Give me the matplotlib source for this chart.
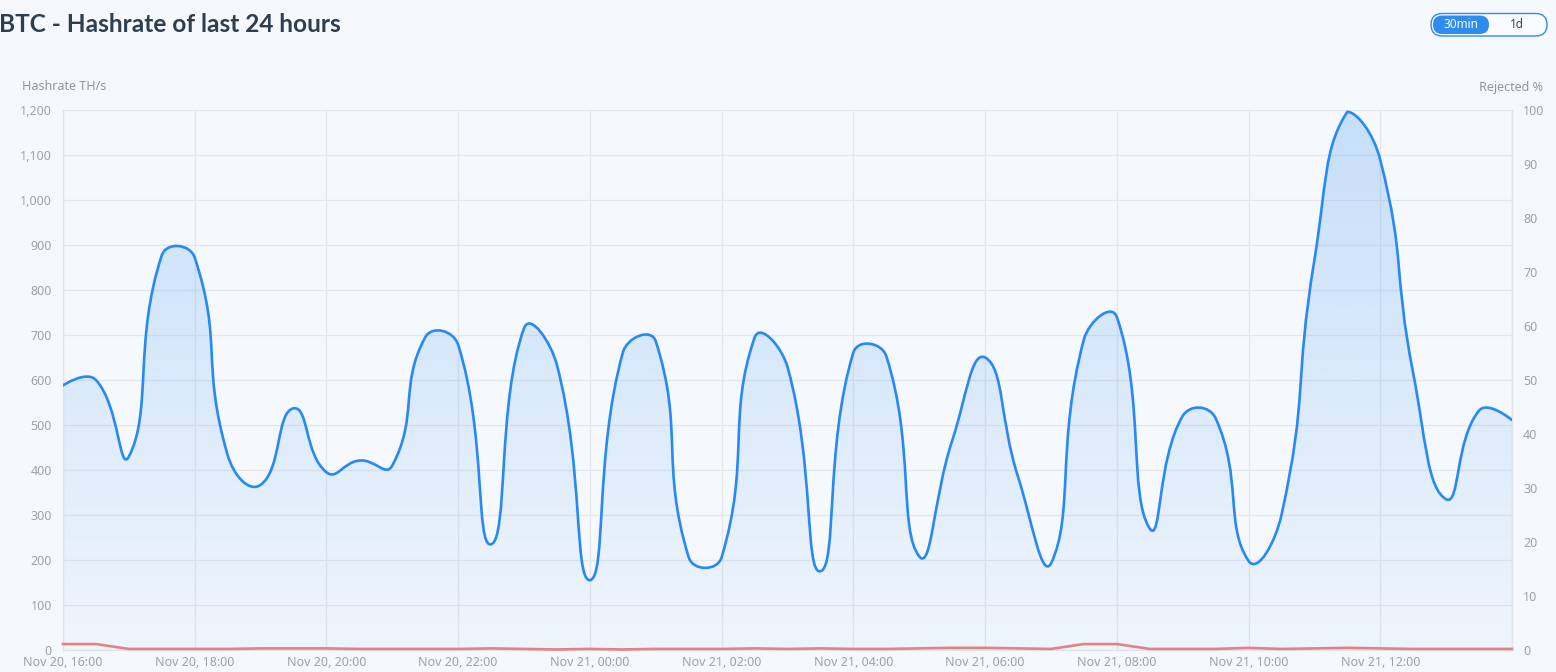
import numpy as np
import pandas as pd
import matplotlib
matplotlib.use("Agg")
import matplotlib.pyplot as plt
import matplotlib.dates as mdates
from matplotlib.path import Path
from matplotlib.patches import PathPatch, FancyBboxPatch
from matplotlib.ticker import FuncFormatter, MultipleLocator

# ---------------- data ----------------
times = pd.date_range("2023-11-20 16:00", "2023-11-21 14:00", freq="30min")
hashrate = [588, 600, 430, 877, 872, 433, 367, 537, 395, 421,
            410, 695, 678, 235, 715, 633, 155, 661, 686, 206,
            206, 694, 629, 175, 661, 653, 208, 465, 650, 385,
            192, 690, 740, 270, 520, 515, 198, 300, 867, 1196,
            1089, 615, 335, 532, 511]
rejected = [1.1, 1.1, 0.2, 0.2, 0.2, 0.2, 0.3, 0.3, 0.3, 0.2,
            0.2, 0.2, 0.2, 0.3, 0.2, 0.1, 0.2, 0.1, 0.2, 0.2,
            0.2, 0.3, 0.2, 0.3, 0.2, 0.2, 0.3, 0.4, 0.4, 0.3,
            0.2, 1.1, 1.1, 0.2, 0.2, 0.2, 0.4, 0.2, 0.3, 0.4,
            0.3, 0.2, 0.2, 0.2, 0.2]
title = "BTC - Hashrate of last 24 hours"
left_name = "Hashrate TH/s"
right_name = "Rejected %"
buttons = ["30min", "1d"]

# ---------------- style ----------------
W, H, DPI = 1556, 672, 100
BG = "#f5f8fc"
BLUE = "#2789f5"
RED = "#e38282"
GRID = "#e3e7ec"
TICK = "#9aa3ab"
NAME = "#8d989f"

fig = plt.figure(figsize=(W / DPI, H / DPI), dpi=DPI, facecolor=BG)
ax = fig.add_axes([63 / W, (H - 650) / H, (1512 - 63) / W, 540 / H])
ax.set_facecolor(BG)
ax.set_zorder(2)

x = mdates.date2num(times.to_pydatetime())
ax.set_xlim(x[0], x[-1])
ax.set_ylim(0, 1200)

date_fmt = mdates.DateFormatter("%b %d, %H:%M")


def xfmt(v, pos):
    if v > x[-1] - 0.01:
        return ""
    return date_fmt(v, pos)


ax.yaxis.set_major_locator(MultipleLocator(100))
ax.yaxis.set_major_formatter(FuncFormatter(lambda v, p: f"{int(v):,}"))
ax.xaxis.set_major_locator(mdates.HourLocator(byhour=range(0, 24, 2)))
ax.xaxis.set_major_formatter(FuncFormatter(xfmt))
ax.grid(True, color=GRID, linewidth=0.9)
ax.set_axisbelow(True)
for s in ax.spines.values():
    s.set_color("#dfe3e8")
    s.set_linewidth(0.9)
ax.spines["top"].set_visible(False)
ax.tick_params(axis="both", length=0, colors=TICK, labelsize=9)
ax.tick_params(axis="y", pad=8)
ax.tick_params(axis="x", pad=4)
for lab in ax.get_xticklabels() + ax.get_yticklabels():
    lab.set_fontfamily("Noto Sans")

# ----- ECharts-like smoothing computed in display space -----
pts = ax.transData.transform(np.column_stack([x, hashrate]))
smooth = 0.5
mn = pts.min(axis=0)
mx = pts.max(axis=0)
verts = [pts[0]]
codes = [Path.MOVETO]
cp0 = pts[0].copy()
n = len(pts)
for i in range(1, n):
    p = pts[i]
    prev = pts[i - 1]
    if i == n - 1:
        cp1 = p.copy()
        v = None
        ratio = 0.5
    else:
        nxt = pts[i + 1]
        v = nxt - prev
        lp = np.hypot(*(p - prev))
        ln = np.hypot(*(nxt - p))
        ratio = ln / (ln + lp)
        cp1 = p - v * smooth * (1 - ratio)
    c0 = np.clip(cp0, mn, mx)
    c1 = np.clip(cp1, mn, mx)
    verts += [c0, c1, p]
    codes += [Path.CURVE4] * 3
    if v is not None:
        cp0 = p + v * smooth * ratio
inv = ax.transData.inverted()
dverts = inv.transform(np.array(verts))
line_path = Path(dverts, codes)

# area (gradient fill)
area_verts = np.vstack([dverts, [[x[-1], 0], [x[0], 0], [x[0], hashrate[0]]]])
area_codes = codes + [Path.LINETO, Path.LINETO, Path.CLOSEPOLY]
area_path = Path(area_verts, area_codes)
area_patch = PathPatch(area_path, facecolor="none", edgecolor="none")
ax.add_patch(area_patch)
grad = np.zeros((256, 1, 4))
rgb = matplotlib.colors.to_rgb(BLUE)
grad[:, 0, :3] = rgb
grad[:, 0, 3] = np.linspace(0.03, 0.23, 256)
im = ax.imshow(grad, extent=[x[0], x[-1], 0, 1200], origin="lower",
               aspect="auto", interpolation="bilinear", zorder=1)
im.set_clip_path(area_patch)

ax.add_patch(PathPatch(line_path, facecolor="none", edgecolor=BLUE,
                       linewidth=1.9, zorder=4, capstyle="round",
                       joinstyle="round"))

# right axis
ax2 = ax.twinx()
ax2.set_ylim(0, 100)
ax2.yaxis.set_major_locator(MultipleLocator(10))
ax2.tick_params(axis="y", length=0, colors=TICK, labelsize=9, pad=8)
for lab in ax2.get_yticklabels():
    lab.set_fontfamily("Noto Sans")
for s in ax2.spines.values():
    s.set_visible(False)
ax2.spines["right"].set_visible(True)
ax2.spines["right"].set_color("#dfe3e8")
ax2.plot(x, rejected, color=RED, linewidth=1.9, zorder=3,
         solid_joinstyle="round", clip_on=False)
ax.set_xlim(x[0], x[-1])

# ---------------- overlay: title, names, buttons ----------------
ov = fig.add_axes([0, 0, 1, 1], zorder=5)
ov.set_xlim(0, W)
ov.set_ylim(H, 0)
ov.axis("off")
ov.patch.set_visible(False)

ov.text(-1, 25, title, fontsize=17.6, fontweight="bold", family="Lato",
        color="#2c3e50", va="center", ha="left")
ov.text(22, 87, left_name, fontsize=9, family="Noto Sans", color=NAME,
        va="center", ha="left")
ov.text(1543, 87, right_name, fontsize=9, family="Noto Sans", color=NAME,
        va="center", ha="right")

ov.add_patch(FancyBboxPatch((1431, 13.5), 116, 22.5,
                            boxstyle="round,pad=0,rounding_size=11.2",
                            facecolor="#f9fbfe", edgecolor="#2d8cf0",
                            linewidth=1.0))
ov.add_patch(FancyBboxPatch((1433, 15.5), 56, 18.5,
                            boxstyle="round,pad=0,rounding_size=9.2",
                            facecolor="#2d8cf0", edgecolor="none"))
ov.text(1461, 25, buttons[0], fontsize=8.5, fontweight="bold",
        family="Noto Sans", color="white", va="center", ha="center")
ov.text(1517, 25, buttons[1], fontsize=8.5, family="Noto Sans",
        color="#4a3f5c", va="center", ha="center")

fig.savefig("out.png", dpi=DPI, facecolor=BG)
